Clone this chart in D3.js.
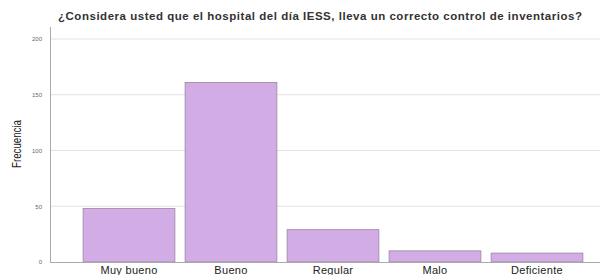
<!DOCTYPE html>
<html>
<head>
<meta charset="utf-8">
<script src="https://cdn.jsdelivr.net/npm/d3@7"></script>
<style>
  body { margin: 0; background: #fff; }
  svg { display: block; }
</style>
</head>
<body>
<div class="chart"></div>
<script>
// datos del grafico
const categorias = ["Muy bueno", "Bueno", "Regular", "Malo", "Deficiente"];
const frecuencias = [48, 161, 29, 10, 8];
const ticksY = [0, 50, 100, 150, 200];
const titulo = "¿Considera usted que el hospital del día IESS, lleva un correcto control de inventarios?";

let width = 603;
let height = 275;

let svg = d3.select(".chart")
    .append("svg")
    .attr("width", width)
    .attr("height", height);

let xScale = d3.scaleBand()
    .domain(categorias)
    .range([78, 588])
    .paddingInner(0.1)
    .paddingOuter(0.05);

let yScale = d3.scaleLinear()
    .domain([0, 200])
    .range([262, 39]);

// lineas de cuadricula
svg.append("g")
    .selectAll("line")
    .data(ticksY.filter(d => d > 0))
    .enter().append("line")
    .attr("x1", 51)
    .attr("x2", 600)
    .attr("y1", d => yScale(d))
    .attr("y2", d => yScale(d))
    .attr("stroke", "#e2e2e2")
    .attr("stroke-width", 1);

// eje Y
let axisY = d3.axisLeft(yScale)
    .tickValues(ticksY)
    .tickSize(0)
    .tickPadding(8);

let gy = svg.append("g")
    .attr("transform", "translate(50,0)")
    .call(axisY);
gy.select(".domain").remove();
gy.selectAll("text")
    .attr("fill", "#666")
    .style("font-family", "Liberation Sans, Arial, sans-serif")
    .style("font-size", "6px");

svg.append("line")
    .attr("x1", 50.5).attr("x2", 50.5)
    .attr("y1", 27).attr("y2", yScale(0))
    .attr("stroke", "#aaa")
    .attr("stroke-width", 1);

// barras
svg.append("g")
    .selectAll("rect")
    .data(categorias)
    .enter().append("rect")
    .attr("x", d => xScale(d))
    .attr("width", xScale.bandwidth())
    .attr("y", (d, i) => yScale(frecuencias[i]))
    .attr("height", (d, i) => yScale(0) - yScale(frecuencias[i]))
    .attr("fill", "#d1ace5")
    .attr("stroke", "#9a86a4")
    .attr("stroke-width", 0.8);

// eje X
svg.append("line")
    .attr("x1", 50).attr("x2", 600)
    .attr("y1", yScale(0) + 0.5).attr("y2", yScale(0) + 0.5)
    .attr("stroke", "#aaa")
    .attr("stroke-width", 1);

let axisX = d3.axisBottom(xScale).tickSize(0).tickPadding(4);
let gx = svg.append("g")
    .attr("transform", `translate(0, ${yScale(0)})`)
    .call(axisX);
gx.select(".domain").remove();
gx.selectAll("text")
    .attr("fill", "#222")
    .style("font-family", "Liberation Sans, Arial, sans-serif")
    .style("font-size", "11px")
    .style("letter-spacing", "0.3px");

// titulo eje Y
svg.append("text")
    .attr("transform", "translate(20.5,144) rotate(-90)")
    .attr("text-anchor", "middle")
    .attr("textLength", 48)
    .attr("lengthAdjust", "spacingAndGlyphs")
    .style("font-family", "Liberation Sans Narrow, Liberation Sans, Arial, sans-serif")
    .style("font-size", "13px")
    .attr("fill", "#222")
    .text("Frecuencia");

// titulo
svg.append("text")
    .attr("x", 320)
    .attr("y", 20)
    .attr("text-anchor", "middle")
    .attr("textLength", 524)
    .attr("lengthAdjust", "spacing")
    .style("font-family", "Liberation Sans, Arial, sans-serif")
    .style("font-size", "11.5px")
    .style("font-weight", "bold")
    .attr("fill", "#333")
    .text(titulo);
</script>
</body>
</html>
